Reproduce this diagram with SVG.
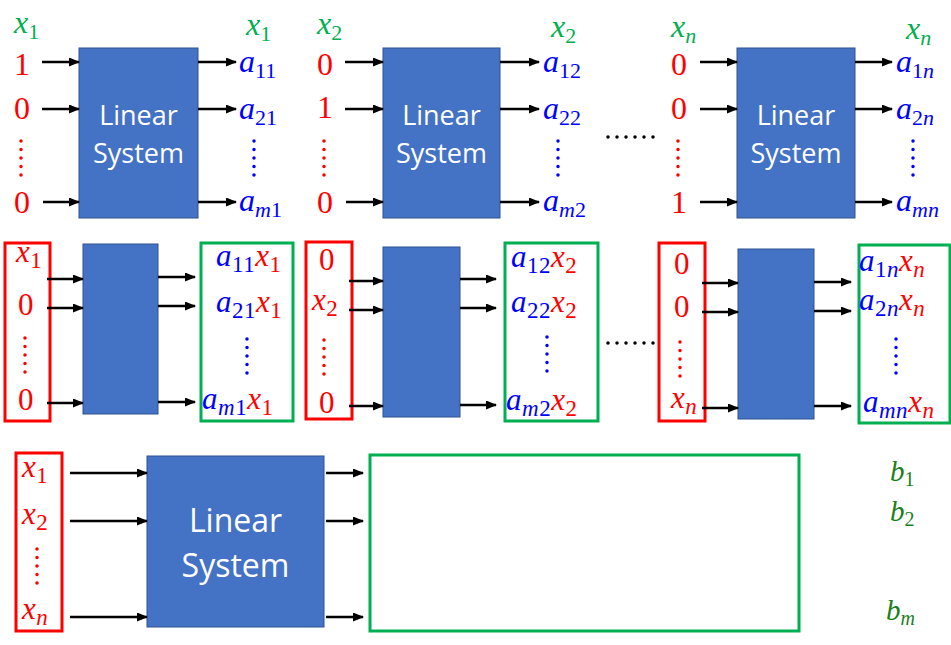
<svg xmlns="http://www.w3.org/2000/svg" width="951" height="645" viewBox="0 0 951 645">
<defs>
<marker id="ah" markerUnits="userSpaceOnUse" markerWidth="11" markerHeight="9" refX="10" refY="4.5" orient="auto">
<path d="M0,0 L11,4.5 L0,9 z" fill="#000"/>
</marker>
<style>
.m{font-family:"Liberation Serif","Times New Roman",serif}
.i{font-style:italic}
.red{fill:#FF0000}
.blue{fill:#0000FF}
.grn{fill:#00B050}
.dg{fill:#1a7f1a}
.c{text-anchor:middle}
.box{fill:#4472C4;stroke:#2F528F;stroke-width:1}
.lbl{font-family:"Open Sans","Liberation Sans",sans-serif;fill:#FFFFFF;text-anchor:middle}
.arr{stroke:#000;stroke-width:2.5;fill:none;marker-end:url(#ah)}
.rr{fill:none;stroke:#FF0000;stroke-width:3}
.gr{fill:none;stroke:#00B050;stroke-width:3}
.rd{stroke:#FF0000;stroke-width:3.5;stroke-linecap:round;stroke-dasharray:0 8.5}
.bd{stroke:#0000FF;stroke-width:3.5;stroke-linecap:round;stroke-dasharray:0 8.5}
.kd{stroke:#000;stroke-width:3.5;stroke-linecap:round;stroke-dasharray:0 9}
.t{font-size:32px}
.s{font-size:22px}
.mt{font-size:31px;letter-spacing:0.5px}
.ms{font-size:23px}
</style>
</defs>

<!-- ================= TOP ROW ================= -->
<g id="top1">
<rect class="box" x="79" y="48" width="119" height="170"/>
<text class="lbl" x="138.5" y="125" font-size="27">Linear</text>
<text class="lbl" x="138.5" y="163" font-size="27">System</text>
<text class="m grn t" x="14" y="33"><tspan class="i">x</tspan><tspan class="s" dy="6">1</tspan></text>
<text class="m grn t" x="246" y="35"><tspan class="i">x</tspan><tspan class="s" dy="6">1</tspan></text>
<text class="m red c t" x="22" y="75">1</text>
<text class="m red c t" x="22" y="119">0</text>
<line class="rd" x1="21" y1="141" x2="21" y2="176"/>
<text class="m red c t" x="22" y="213">0</text>
<text class="m blue t" x="239" y="72"><tspan class="i">a</tspan><tspan class="s" dy="6">11</tspan></text>
<text class="m blue t" x="239" y="119"><tspan class="i">a</tspan><tspan class="s" dy="6">21</tspan></text>
<line class="bd" x1="254" y1="141" x2="254" y2="176"/>
<text class="m blue t" x="239" y="211"><tspan class="i">a</tspan><tspan class="s i" dy="6">m</tspan><tspan class="s">1</tspan></text>
</g>

<g id="top2">
<rect class="box" x="383" y="48" width="117" height="170"/>
<text class="lbl" x="441.5" y="125" font-size="27">Linear</text>
<text class="lbl" x="441.5" y="163" font-size="27">System</text>
<text class="m grn t" x="317" y="34"><tspan class="i">x</tspan><tspan class="s" dy="6">2</tspan></text>
<text class="m grn t" x="551" y="37"><tspan class="i">x</tspan><tspan class="s" dy="6">2</tspan></text>
<text class="m red c t" x="325" y="75">0</text>
<text class="m red c t" x="325" y="118">1</text>
<line class="rd" x1="324" y1="141" x2="324" y2="176"/>
<text class="m red c t" x="325" y="213">0</text>
<text class="m blue t" x="543" y="72"><tspan class="i">a</tspan><tspan class="s" dy="6">12</tspan></text>
<text class="m blue t" x="543" y="119"><tspan class="i">a</tspan><tspan class="s" dy="6">22</tspan></text>
<line class="bd" x1="558" y1="141" x2="558" y2="176"/>
<text class="m blue t" x="543" y="211"><tspan class="i">a</tspan><tspan class="s i" dy="6">m</tspan><tspan class="s">2</tspan></text>
</g>

<line class="kd" x1="608" y1="137" x2="654" y2="137"/>

<g id="top3">
<rect class="box" x="737" y="48" width="118" height="170"/>
<text class="lbl" x="796" y="125" font-size="27">Linear</text>
<text class="lbl" x="796" y="163" font-size="27">System</text>
<text class="m grn t" x="671" y="37"><tspan class="i">x</tspan><tspan class="s i" dy="6">n</tspan></text>
<text class="m grn t" x="906" y="39"><tspan class="i">x</tspan><tspan class="s i" dy="6">n</tspan></text>
<text class="m red c t" x="679" y="75">0</text>
<text class="m red c t" x="679" y="119">0</text>
<line class="rd" x1="678" y1="141" x2="678" y2="176"/>
<text class="m red c t" x="679" y="213">1</text>
<text class="m blue t" x="896" y="72"><tspan class="i">a</tspan><tspan class="s" dy="6">1</tspan><tspan class="s i">n</tspan></text>
<text class="m blue t" x="896" y="119"><tspan class="i">a</tspan><tspan class="s" dy="6">2</tspan><tspan class="s i">n</tspan></text>
<line class="bd" x1="913" y1="141" x2="913" y2="176"/>
<text class="m blue t" x="896" y="211"><tspan class="i">a</tspan><tspan class="s i" dy="6">mn</tspan></text>
</g>

<!-- ================= MIDDLE ROW ================= -->
<g id="mid1">
<rect class="rr" x="5" y="243" width="45" height="178"/>
<rect class="box" x="83" y="244" width="75" height="170"/>
<rect class="gr" x="201" y="243" width="92" height="178"/>
<text class="m red mt" x="16" y="262"><tspan class="i">x</tspan><tspan class="ms" dy="6">1</tspan></text>
<text class="m red c mt" x="26" y="315">0</text>
<line class="rd" x1="25" y1="338" x2="25" y2="375"/>
<text class="m red c mt" x="26" y="410">0</text>
<text class="m mt" x="216" y="266"><tspan class="blue i">a</tspan><tspan class="blue ms" dy="6">11</tspan><tspan class="red i" dy="-6">x</tspan><tspan class="red ms" dy="6">1</tspan></text>
<text class="m mt" x="216" y="312"><tspan class="blue i">a</tspan><tspan class="blue ms" dy="6">21</tspan><tspan class="red i" dy="-6">x</tspan><tspan class="red ms" dy="6">1</tspan></text>
<line class="bd" x1="247" y1="339" x2="247" y2="376"/>
<text class="m mt" x="202" y="409"><tspan class="blue i">a</tspan><tspan class="blue i ms" dy="6">m</tspan><tspan class="blue ms">1</tspan><tspan class="red i" dy="-6">x</tspan><tspan class="red ms" dy="6">1</tspan></text>
</g>

<g id="mid2">
<rect class="rr" x="306" y="242" width="46" height="177"/>
<rect class="box" x="383" y="247" width="77" height="170"/>
<rect class="gr" x="505" y="243" width="93" height="178"/>
<text class="m red c mt" x="327" y="270">0</text>
<text class="m red mt" x="312" y="310"><tspan class="i">x</tspan><tspan class="ms" dy="6">2</tspan></text>
<line class="rd" x1="324" y1="340" x2="324" y2="377"/>
<text class="m red c mt" x="327" y="413">0</text>
<text class="m mt" x="511" y="267"><tspan class="blue i">a</tspan><tspan class="blue ms" dy="6">12</tspan><tspan class="red i" dy="-6">x</tspan><tspan class="red ms" dy="6">2</tspan></text>
<text class="m mt" x="511" y="312"><tspan class="blue i">a</tspan><tspan class="blue ms" dy="6">22</tspan><tspan class="red i" dy="-6">x</tspan><tspan class="red ms" dy="6">2</tspan></text>
<line class="bd" x1="547" y1="337" x2="547" y2="374"/>
<text class="m mt" x="506" y="410"><tspan class="blue i">a</tspan><tspan class="blue i ms" dy="6">m</tspan><tspan class="blue ms">2</tspan><tspan class="red i" dy="-6">x</tspan><tspan class="red ms" dy="6">2</tspan></text>
</g>

<line class="kd" x1="608" y1="343" x2="654" y2="343"/>

<g id="mid3">
<rect class="rr" x="659" y="243" width="46" height="178"/>
<rect class="box" x="738" y="249" width="76" height="170"/>
<rect class="gr" x="859" y="245" width="91" height="178"/>
<text class="m red c mt" x="682" y="274">0</text>
<text class="m red c mt" x="682" y="317">0</text>
<line class="rd" x1="680" y1="342" x2="680" y2="380"/>
<text class="m red mt" x="671" y="408"><tspan class="i">x</tspan><tspan class="i ms" dy="6">n</tspan></text>
<text class="m mt" x="859" y="271"><tspan class="blue i">a</tspan><tspan class="blue ms" dy="6">1</tspan><tspan class="blue i ms">n</tspan><tspan class="red i" dy="-6">x</tspan><tspan class="red i ms" dy="6">n</tspan></text>
<text class="m mt" x="859" y="310"><tspan class="blue i">a</tspan><tspan class="blue ms" dy="6">2</tspan><tspan class="blue i ms">n</tspan><tspan class="red i" dy="-6">x</tspan><tspan class="red i ms" dy="6">n</tspan></text>
<line class="bd" x1="896" y1="339" x2="896" y2="376"/>
<text class="m mt" x="863" y="412"><tspan class="blue i">a</tspan><tspan class="blue i ms" dy="6">mn</tspan><tspan class="red i" dy="-6">x</tspan><tspan class="red i ms" dy="6">n</tspan></text>
</g>

<!-- ================= BOTTOM ROW ================= -->
<g id="bot">
<rect class="rr" x="16" y="453" width="46" height="178"/>
<rect class="box" x="147" y="456" width="177" height="171"/>
<text class="lbl" x="235.5" y="532" font-size="32">Linear</text>
<text class="lbl" x="235.5" y="577" font-size="32">System</text>
<rect class="gr" x="370" y="455" width="429" height="176"/>
<text class="m red mt" x="22" y="477"><tspan class="i">x</tspan><tspan class="ms" dy="6">1</tspan></text>
<text class="m red mt" x="22" y="524"><tspan class="i">x</tspan><tspan class="ms" dy="6">2</tspan></text>
<line class="rd" x1="37" y1="549" x2="37" y2="587"/>
<text class="m red mt" x="22" y="619"><tspan class="i">x</tspan><tspan class="i ms" dy="6">n</tspan></text>
<text class="m dg" x="890" y="481" font-size="29"><tspan class="i">b</tspan><tspan font-size="20" dy="5">1</tspan></text>
<text class="m dg" x="890" y="521" font-size="29"><tspan class="i">b</tspan><tspan font-size="20" dy="5">2</tspan></text>
<text class="m dg" x="886" y="620" font-size="29"><tspan class="i">b</tspan><tspan class="i" font-size="20" dy="5">m</tspan></text>
</g>

<!-- ================= CONNECTORS ================= -->
<g id="connectors">
<line class="arr" x1="42" y1="62" x2="79" y2="62"/>
<line class="arr" x1="42" y1="109" x2="79" y2="109"/>
<line class="arr" x1="43" y1="202" x2="79" y2="202"/>
<line class="arr" x1="198" y1="62" x2="236" y2="62"/>
<line class="arr" x1="198" y1="109" x2="236" y2="109"/>
<line class="arr" x1="198" y1="202" x2="236" y2="202"/>

<line class="arr" x1="345" y1="62" x2="383" y2="62"/>
<line class="arr" x1="345" y1="109" x2="383" y2="109"/>
<line class="arr" x1="346" y1="202" x2="383" y2="202"/>
<line class="arr" x1="500" y1="62" x2="539" y2="62"/>
<line class="arr" x1="500" y1="109" x2="539" y2="109"/>
<line class="arr" x1="500" y1="202" x2="539" y2="202"/>

<line class="arr" x1="700" y1="62" x2="737" y2="62"/>
<line class="arr" x1="700" y1="109" x2="737" y2="109"/>
<line class="arr" x1="700" y1="202" x2="737" y2="202"/>
<line class="arr" x1="855" y1="62" x2="892" y2="62"/>
<line class="arr" x1="855" y1="109" x2="892" y2="109"/>
<line class="arr" x1="855" y1="202" x2="892" y2="202"/>

<line class="arr" x1="47" y1="279" x2="83" y2="279"/>
<line class="arr" x1="47" y1="308" x2="83" y2="308"/>
<line class="arr" x1="47" y1="403" x2="83" y2="403"/>
<line class="arr" x1="158" y1="277" x2="195" y2="277"/>
<line class="arr" x1="158" y1="306" x2="195" y2="306"/>
<line class="arr" x1="158" y1="402" x2="195" y2="402"/>

<line class="arr" x1="349" y1="281" x2="383" y2="281"/>
<line class="arr" x1="349" y1="310" x2="383" y2="310"/>
<line class="arr" x1="349" y1="406" x2="383" y2="406"/>
<line class="arr" x1="460" y1="279" x2="496" y2="279"/>
<line class="arr" x1="460" y1="308" x2="496" y2="308"/>
<line class="arr" x1="460" y1="405" x2="496" y2="405"/>

<line class="arr" x1="702" y1="283" x2="738" y2="283"/>
<line class="arr" x1="702" y1="312" x2="738" y2="312"/>
<line class="arr" x1="702" y1="408" x2="738" y2="408"/>
<line class="arr" x1="814" y1="282" x2="851" y2="282"/>
<line class="arr" x1="814" y1="311" x2="851" y2="311"/>
<line class="arr" x1="814" y1="406" x2="851" y2="406"/>

<line class="arr" x1="70" y1="473" x2="147" y2="473"/>
<line class="arr" x1="70" y1="521" x2="147" y2="521"/>
<line class="arr" x1="70" y1="617" x2="147" y2="617"/>
<line class="arr" x1="326" y1="473" x2="363" y2="473"/>
<line class="arr" x1="326" y1="521" x2="363" y2="521"/>
<line class="arr" x1="326" y1="617" x2="363" y2="617"/>
</g>
</svg>
